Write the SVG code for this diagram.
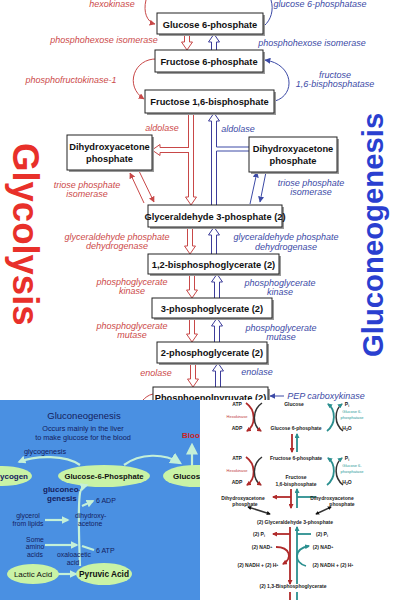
<svg xmlns="http://www.w3.org/2000/svg" width="400" height="600" viewBox="0 0 400 600">
<defs>
<style>
.bx{fill:#fff;stroke:#222;stroke-width:1}
.sh{fill:#9a9a9a}
.bt{font-family:"Liberation Sans",Arial,sans-serif;font-weight:bold;font-size:9.3px;fill:#111;text-anchor:middle}
.er{font-family:"Liberation Sans",Arial,sans-serif;font-style:italic;font-size:9px;fill:#cc4a4a;text-anchor:middle}
.eb{font-family:"Liberation Sans",Arial,sans-serif;font-style:italic;font-size:9px;fill:#3c4aa6;text-anchor:middle}
.har{fill:#fff;stroke:#c84848;stroke-width:1}
.hab{fill:#fff;stroke:#3c3c9a;stroke-width:1}
.cr{fill:none;stroke:#c84848;stroke-width:1}
.cb{fill:none;stroke:#3c4aa6;stroke-width:1}
.big{font-family:"Liberation Sans",Arial,sans-serif;font-weight:bold}
.bl{font-family:"Liberation Sans",Arial,sans-serif;fill:#14205e}
.el{fill:#c9f3a6}
.ga{fill:none;stroke:#c4f0d8;stroke-width:2.2}
.sk{font-family:"Liberation Sans",Arial,sans-serif;font-weight:bold;font-size:5px;fill:#222;text-anchor:middle}
.sr{font-family:"Liberation Sans",Arial,sans-serif;font-size:4px;fill:#c03a3a;text-anchor:middle}
.st{font-family:"Liberation Sans",Arial,sans-serif;font-size:4px;fill:#2a9a9a;text-anchor:middle}
.ar{fill:none;stroke:#b02a2a;stroke-width:1.8}
.at{fill:none;stroke:#2b8f8f;stroke-width:1.8}
.ak{fill:none;stroke:#333;stroke-width:1.5}
</style>
<marker id="mR" viewBox="0 0 10 10" refX="9" refY="5" markerWidth="6" markerHeight="6" markerUnits="userSpaceOnUse" orient="auto-start-reverse"><path d="M0,0 L10,5 L0,10 z" fill="#c84848"/></marker>
<marker id="mB" viewBox="0 0 10 10" refX="9" refY="5" markerWidth="6" markerHeight="6" markerUnits="userSpaceOnUse" orient="auto-start-reverse"><path d="M0,0 L10,5 L0,10 z" fill="#3c4aa6"/></marker>
<marker id="mG" viewBox="0 0 10 10" refX="8" refY="5" markerWidth="8" markerHeight="8" markerUnits="userSpaceOnUse" orient="auto-start-reverse"><path d="M0,0 L10,5 L0,10 z" fill="#c4f0d8"/></marker>
<marker id="mGL" viewBox="0 0 10 10" refX="8" refY="5" markerWidth="12" markerHeight="12" markerUnits="userSpaceOnUse" orient="auto-start-reverse"><path d="M0,0 L10,5 L0,10 z" fill="#c4f0d8"/></marker>
<marker id="mD" viewBox="0 0 10 10" refX="8" refY="5" markerWidth="5" markerHeight="5" markerUnits="userSpaceOnUse" orient="auto-start-reverse"><path d="M0,0 L10,5 L0,10 z" fill="#b02a2a"/></marker>
<marker id="mT" viewBox="0 0 10 10" refX="8" refY="5" markerWidth="5" markerHeight="5" markerUnits="userSpaceOnUse" orient="auto-start-reverse"><path d="M0,0 L10,5 L0,10 z" fill="#2b8f8f"/></marker>
<marker id="mK" viewBox="0 0 10 10" refX="8" refY="5" markerWidth="4" markerHeight="4" markerUnits="userSpaceOnUse" orient="auto-start-reverse"><path d="M0,0 L10,5 L0,10 z" fill="#111"/></marker>
<clipPath id="cpL"><rect x="0" y="400" width="200" height="200"/></clipPath>
<clipPath id="cpTop"><rect x="0" y="0" width="400" height="400"/></clipPath>
</defs>
<rect x="0" y="0" width="400" height="600" fill="#fff"/>

<!-- titles -->
<text class="big" font-size="36.5" fill="#e8302a" transform="translate(13,143) rotate(90)">Glycolysis</text>
<text class="big" font-size="29.3" fill="#2a3fd0" transform="translate(383,357) rotate(-90)">Gluconeogenesis</text>

<!-- connectors of top diagram -->
<g id="connectors">
<path class="cr" d="M146,0 C143,12 147,22 155,24" marker-end="url(#mR)"/>
<path class="cb" d="M264,26 C271,20 274,10 271,0"/>
<path class="har" d="M184.5,35 V42 H181.5 L187,50 L192.5,42 H189.5 V35"/>
<path class="hab" d="M211.5,50 V42 H208.5 L214,34 L219.5,42 H216.5 V50"/>
<path class="cr" d="M157,59 C134,58 124,86 144,99" marker-end="url(#mR)"/>
<path class="cb" d="M275,101 C296,95 294,64 265,60" marker-end="url(#mB)"/>
<path class="har" d="M188.5,114 V197 H185.5 L191,205 L196.5,197 H193.5 V114"/>
<path class="har" d="M189,147.5 H160 V144.5 L152,150 L160,155.5 V152.5 H189"/>
<path class="hab" d="M211.5,205 V121 H208.5 L214,113 L219.5,121 H216.5 V205"/>
<rect x="215" y="147" width="34" height="4" fill="#fff"/>
<path class="cb" d="M249,147 H216.5 M216.5,151 H249"/>
<line class="cr" x1="144" y1="203" x2="130" y2="173" marker-end="url(#mR)"/>
<line class="cr" x1="139" y1="171" x2="154" y2="202" marker-end="url(#mR)"/>
<line class="cb" x1="250" y1="204" x2="257" y2="172" marker-end="url(#mB)"/>
<line class="cb" x1="266" y1="172" x2="260" y2="202" marker-end="url(#mB)"/>
<path class="har" d="M187.5,228 V246 H184.5 L190,254 L195.5,246 H192.5 V228"/>
<path class="hab" d="M211.5,254 V235 H208.5 L214,227 L219.5,235 H216.5 V254"/>
<path class="har" d="M189.5,275 V290 H186.5 L192,298 L197.5,290 H194.5 V275"/>
<path class="hab" d="M214.5,298 V282 H211.5 L217,274 L222.5,282 H219.5 V298"/>
<path class="har" d="M189.5,319 V334 H186.5 L192,342 L197.5,334 H194.5 V319"/>
<path class="hab" d="M214.5,342 V326 H211.5 L217,318 L222.5,326 H219.5 V342"/>
<path class="har" d="M190.5,364 V379 H187.5 L193,387 L198.5,379 H195.5 V364"/>
<path class="hab" d="M215.5,387 V371 H212.5 L218,363 L223.5,371 H220.5 V387"/>
<line class="cb" x1="284" y1="396" x2="270" y2="396" marker-end="url(#mB)"/>
<path class="cr" d="M153,394 C148,395 145,398 143,400"/>
</g>

<!-- enzyme labels -->
<g id="enzymes">
<text class="er" x="112" y="7">hexokinase</text>
<text class="eb" x="320" y="7">glucose 6-phosphatase</text>
<text class="er" x="104" y="43">phosphohexose isomerase</text>
<text class="eb" x="312" y="46">phosphohexose isomerase</text>
<text class="er" x="71" y="83">phosphofructokinase-1</text>
<text class="eb" x="335" y="78">fructose</text>
<text class="eb" x="335" y="87">1,6-bisphosphatase</text>
<text class="er" x="162" y="131">aldolase</text>
<text class="eb" x="238" y="132">aldolase</text>
<text class="er" x="87" y="188">triose phosphate</text>
<text class="er" x="87" y="197">isomerase</text>
<text class="eb" x="311" y="186">triose phosphate</text>
<text class="eb" x="311" y="195">isomerase</text>
<text class="er" x="117" y="240">glyceraldehyde phosphate</text>
<text class="er" x="117" y="249">dehydrogenase</text>
<text class="eb" x="286" y="240">glyceraldehyde phosphate</text>
<text class="eb" x="286" y="250">dehydrogenase</text>
<text class="er" x="132" y="285">phosphoglycerate</text>
<text class="er" x="132" y="294">kinase</text>
<text class="eb" x="280" y="286">phosphoglycerate</text>
<text class="eb" x="280" y="295">kinase</text>
<text class="er" x="132" y="329">phosphoglycerate</text>
<text class="er" x="132" y="338">mutase</text>
<text class="eb" x="281" y="331">phosphoglycerate</text>
<text class="eb" x="281" y="340">mutase</text>
<text class="er" x="156" y="376">enolase</text>
<text class="eb" x="257" y="375">enolase</text>
<text class="eb" x="326" y="399">PEP carboxykinase</text>
</g>

<!-- nodes -->
<g id="g6p"><rect class="sh" x="159" y="15" width="106" height="21"/><rect class="bx" x="157" y="13" width="106" height="21"/><text class="bt" x="210" y="27.5">Glucose 6-phosphate</text></g>
<g id="f6p"><rect class="sh" x="157" y="52" width="108" height="22"/><rect class="bx" x="155" y="50" width="108" height="22"/><text class="bt" x="209" y="64.5">Fructose 6-phosphate</text></g>
<g id="f16bp"><rect class="sh" x="147" y="92" width="129" height="23"/><rect class="bx" x="145" y="90" width="129" height="23"/><text class="bt" x="209.5" y="105">Fructose 1,6-bisphosphate</text></g>
<g id="dhapL"><rect class="sh" x="69" y="137" width="85" height="35"/><rect class="bx" x="67" y="135" width="85" height="35"/><text class="bt" x="109.5" y="150">Dihydroxyacetone</text><text class="bt" x="109.5" y="162">phosphate</text></g>
<g id="dhapR"><rect class="sh" x="251" y="139" width="88" height="35"/><rect class="bx" x="249" y="137" width="88" height="35"/><text class="bt" x="293" y="152">Dihydroxyacetone</text><text class="bt" x="293" y="164">phosphate</text></g>
<g id="gap"><rect class="sh" x="150" y="207" width="134" height="22"/><rect class="bx" x="148" y="205" width="134" height="22"/><text class="bt" x="215" y="219.5">Glyceraldehyde 3-phosphate (2)</text></g>
<g id="bpg"><rect class="sh" x="150" y="256" width="131" height="20"/><rect class="bx" x="148" y="254" width="131" height="20"/><text class="bt" x="213.5" y="267.5">1,2-bisphosphoglycerate (2)</text></g>
<g id="pg3"><rect class="sh" x="154" y="300" width="120" height="20"/><rect class="bx" x="152" y="298" width="120" height="20"/><text class="bt" x="212" y="311.5">3-phosphoglycerate (2)</text></g>
<g id="pg2"><rect class="sh" x="159" y="344" width="110" height="21"/><rect class="bx" x="157" y="342" width="110" height="21"/><text class="bt" x="212" y="356">2-phosphoglycerate (2)</text></g>
<g id="pep" clip-path="url(#cpTop)"><rect class="sh" x="155" y="389" width="115" height="20"/><rect class="bx" x="153" y="387" width="115" height="20"/><text class="bt" x="210.5" y="400.5">Phosphoenolpyruvate (2)</text></g>

<!-- bottom-left panel -->
<g id="panel-left" clip-path="url(#cpL)">
<rect x="0" y="400" width="200" height="200" fill="#4a90e2"/>
<text class="bl" x="84" y="419" font-size="9.5" text-anchor="middle">Gluconeogenesis</text>
<text class="bl" x="83" y="431" font-size="7.3" text-anchor="middle">Occurs mainly in the liver</text>
<text class="bl" x="83" y="440" font-size="7.3" text-anchor="middle">to make glucose for the blood</text>
<text class="bl" x="45" y="454" font-size="7.3" text-anchor="middle">glycogenesis</text>
<text x="182" y="438" font-family="Liberation Sans, Arial, sans-serif" font-weight="bold" font-size="8" fill="#cc2222">Bloo</text>
<path class="ga" d="M80,465 C66,455 36,455 19,462" marker-end="url(#mG)"/>
<path class="ga" d="M124,465 C140,453 164,453 180,463" marker-end="url(#mGL)"/>
<line class="ga" stroke-width="3" x1="192" y1="466" x2="192" y2="445" marker-end="url(#mGL)"/>
<g id="glycogen"><ellipse class="el" cx="2" cy="476" rx="30" ry="10"/><text class="bl" x="0" y="479" font-size="8" font-weight="bold" fill="#111">ycogen</text></g>
<g id="g6p-ell"><ellipse class="el" cx="104" cy="476" rx="46" ry="11"/><text x="104" y="479" font-family="Liberation Sans, Arial, sans-serif" font-size="7.7" font-weight="bold" fill="#111" text-anchor="middle">Glucose-6-Phosphate</text></g>
<g id="glucose-ell"><ellipse class="el" cx="196" cy="476" rx="33" ry="11"/><text x="173" y="479" font-family="Liberation Sans, Arial, sans-serif" font-size="8" font-weight="bold" fill="#111">Glucos</text></g>
<text class="bl" x="43" y="492" font-size="8" font-weight="bold">gluconeo-</text>
<text class="bl" x="47" y="501" font-size="8" font-weight="bold">genesis</text>
<path class="ga" d="M80,566 C79,540 78,505 80,493 C81,488 84,486 87,485" marker-end="url(#mG)"/>
<line class="ga" stroke-width="1.5" x1="82" y1="506" x2="93" y2="501" marker-end="url(#mG)"/>
<text class="bl" x="96" y="503" font-size="7">6 ADP</text>
<text class="bl" x="28" y="518" font-size="6.8" text-anchor="middle">glycerol</text>
<text class="bl" x="28" y="526" font-size="6.8" text-anchor="middle">from lipids</text>
<line class="ga" stroke-width="1.8" x1="45" y1="520" x2="68" y2="520" marker-end="url(#mG)"/>
<text class="bl" x="75" y="518" font-size="6.8">dihydroxy-</text>
<text class="bl" x="78" y="526" font-size="6.8">acetone</text>
<text class="bl" x="35" y="542" font-size="6.8" text-anchor="middle">Some</text>
<text class="bl" x="35" y="549" font-size="6.8" text-anchor="middle">amino</text>
<text class="bl" x="35" y="557" font-size="6.8" text-anchor="middle">acids</text>
<line class="ga" stroke-width="1.8" x1="45" y1="545" x2="77" y2="545" marker-end="url(#mG)"/>
<line class="ga" stroke-width="1.5" x1="82" y1="546" x2="94" y2="550"/>
<text class="bl" x="96" y="553" font-size="7">6 ATP</text>
<text class="bl" x="74" y="557" font-size="6.8" text-anchor="middle">oxaloacetic</text>
<text class="bl" x="73" y="565" font-size="6.8" text-anchor="middle">acid</text>
<line class="ga" stroke-width="1.8" x1="58" y1="574" x2="76" y2="574" marker-end="url(#mG)"/>
<g id="lactic"><ellipse class="el" cx="33" cy="574" rx="26" ry="10"/><text x="33" y="577" font-family="Liberation Sans, Arial, sans-serif" font-size="8" fill="#111" text-anchor="middle">Lactic Acid</text></g>
<g id="pyruvic"><ellipse class="el" cx="104" cy="574" rx="28" ry="11"/><text x="104" y="577" font-family="Liberation Sans, Arial, sans-serif" font-size="8.3" font-weight="bold" fill="#111" text-anchor="middle">Pyruvic Acid</text></g>
</g>

<!-- bottom-right panel -->
<g id="panel-right">
<rect x="200" y="401" width="200" height="199" fill="#fff"/>
<text class="sk" x="237" y="406">ATP</text>
<text class="sr" x="237" y="418">Hexokinase</text>
<text class="sk" x="237" y="430">ADP</text>
<path class="ar" d="M246,403 C256,410 256,425 247,431" marker-end="url(#mD)"/>
<path class="ak" d="M262,403 C252,410 252,425 261,431" marker-end="url(#mD)"/>
<text class="sk" x="294" y="406">Glucose</text>
<text class="sk" x="296" y="430">Glucose 6-phosphate</text>
<text class="sk" x="347" y="406">P<tspan font-size="3.5" dy="1">i</tspan></text>
<text class="st" x="352" y="413">Glucose 6-</text>
<text class="st" x="352" y="419">phosphatase</text>
<text class="sk" x="347" y="430">H<tspan font-size="3.5" dy="1">2</tspan><tspan dy="-1">O</tspan></text>
<path class="at" d="M327,431 C336,424 336,410 328,404" marker-end="url(#mT)"/>
<path class="ak" d="M343,431 C334,424 334,410 342,404" marker-end="url(#mT)"/>
<line class="ar" x1="292" y1="434" x2="292" y2="452" marker-end="url(#mD)"/>
<line class="at" x1="297" y1="452" x2="297" y2="434" marker-end="url(#mT)"/>
<text class="sk" x="296" y="460">Fructose 6-phosphate</text>
<text class="sk" x="237" y="460">ATP</text>
<text class="sr" x="237" y="472">Hexokinase</text>
<text class="sk" x="237" y="484">ADP</text>
<path class="ar" d="M246,457 C256,464 256,479 247,485" marker-end="url(#mD)"/>
<path class="ak" d="M262,457 C252,464 252,479 261,485" marker-end="url(#mD)"/>
<text class="sk" x="296" y="479">Fructose</text>
<text class="sk" x="296" y="486">1,6-bisphosphate</text>
<text class="sk" x="347" y="460">P<tspan font-size="3.5" dy="1">i</tspan></text>
<text class="st" x="352" y="467">Glucose 6-</text>
<text class="st" x="352" y="473">phosphatase</text>
<text class="sk" x="347" y="484">H<tspan font-size="3.5" dy="1">2</tspan><tspan dy="-1">O</tspan></text>
<path class="at" d="M327,485 C336,478 336,464 328,458" marker-end="url(#mT)"/>
<path class="ak" d="M343,485 C334,478 334,464 342,458" marker-end="url(#mT)"/>
<line class="ar" x1="291" y1="489" x2="291" y2="508" marker-end="url(#mD)"/>
<line class="ar" x1="291" y1="497" x2="273" y2="497" marker-end="url(#mD)"/>
<line class="at" x1="297" y1="508" x2="297" y2="489" marker-end="url(#mT)"/>
<line class="at" x1="297" y1="497" x2="316" y2="497"/>
<text class="sk" x="243" y="500">Dihydroxyacetone</text>
<text class="sk" x="245" y="506">phosphate</text>
<text class="sk" x="332" y="500">Dihydroxyacetone</text>
<text class="sk" x="342" y="506">phosphate</text>
<line class="ak" stroke="#111" stroke-width="1" x1="248" y1="507" x2="270" y2="514" marker-start="url(#mK)" marker-end="url(#mK)"/>
<line class="ak" stroke="#111" stroke-width="1" x1="316" y1="514" x2="331" y2="507" marker-start="url(#mK)" marker-end="url(#mK)"/>
<text class="sk" x="295" y="524">(2) Glyceraldehyde 3-phosphate</text>
<line class="ar" x1="290" y1="527" x2="290" y2="584" marker-end="url(#mD)"/>
<line class="at" x1="297" y1="584" x2="297" y2="527" marker-end="url(#mT)"/>
<line class="ar" stroke-width="1.2" x1="290" y1="534" x2="273" y2="534" marker-end="url(#mD)"/>
<line class="at" stroke-width="1.2" x1="297" y1="534" x2="311" y2="534"/>
<text class="sk" x="259" y="536">(2) P<tspan font-size="3.5" dy="1">i</tspan></text>
<text class="sk" x="322" y="536">(2) P<tspan font-size="3.5" dy="1">i</tspan></text>
<text class="sk" x="262" y="549">(2) NAD<tspan font-size="3.5" dy="-1.5">+</tspan></text>
<text class="sk" x="323" y="549">(2) NAD<tspan font-size="3.5" dy="-1.5">+</tspan></text>
<path class="ar" stroke-width="2.2" d="M276,547 C290,547 293,558 283,564" marker-end="url(#mD)"/>
<path class="at" stroke-width="2.2" d="M306,566 C294,563 293,549 309,546" marker-end="url(#mT)"/>
<text class="sk" x="258" y="567">(2) NADH + (2) H<tspan font-size="3.5" dy="-1.5">+</tspan></text>
<text class="sk" x="333" y="567">(2) NADH + (2) H<tspan font-size="3.5" dy="-1.5">+</tspan></text>
<text class="sk" x="293" y="588">(2) 1,3-Bisphosphoglycerate</text>
<line class="ar" x1="290" y1="592" x2="290" y2="600"/>
<line class="at" x1="297" y1="592" x2="297" y2="600"/>
</g>
</svg>
